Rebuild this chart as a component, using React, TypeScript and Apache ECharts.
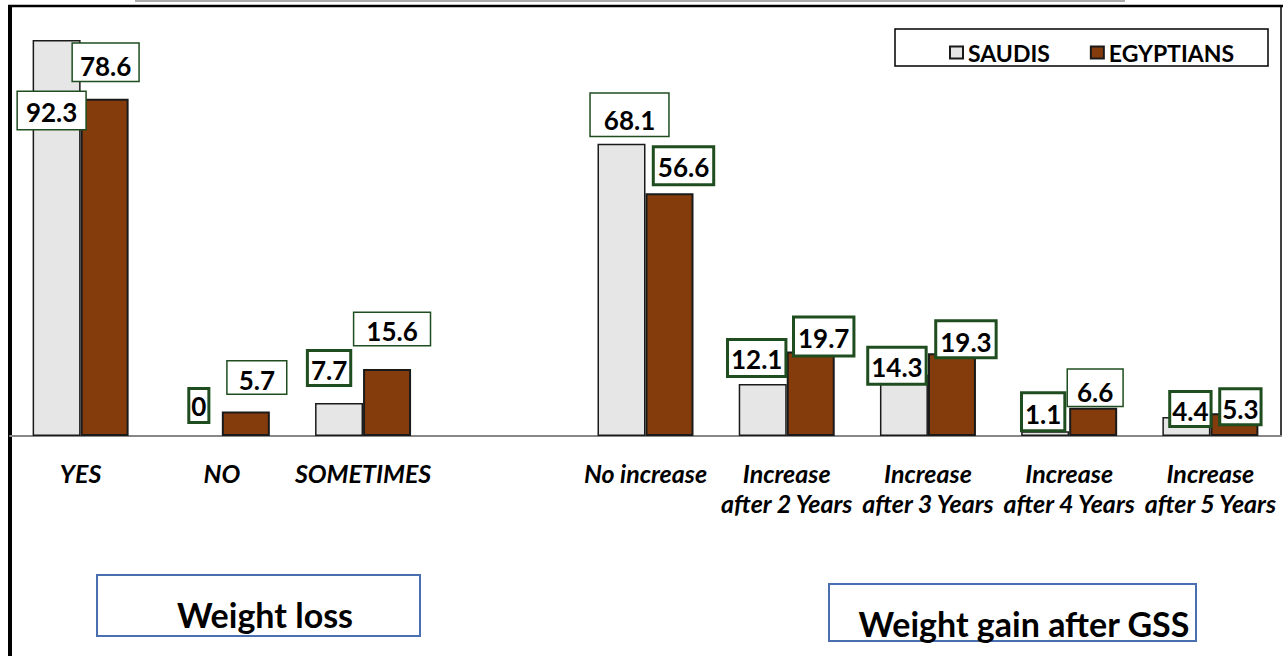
import React, { useEffect, useRef } from "react";
import * as echarts from "echarts";

const categories = [
  "YES",
  "NO",
  "SOMETIMES",
  "",
  "No increase",
  "Increase\nafter 2 Years",
  "Increase\nafter 3 Years",
  "Increase\nafter 4 Years",
  "Increase\nafter 5 Years",
];
const saudis: (number | null)[] = [92.3, 0, 7.7, null, 68.1, 12.1, 14.3, 1.1, 4.4];
const egyptians: (number | null)[] = [78.6, 5.7, 15.6, null, 56.6, 19.7, 19.3, 6.6, 5.3];
const seriesNames = ["SAUDIS", "EGYPTIANS"];
const groupTitles = ["Weight loss", "Weight gain after GSS"];

// label placement (manual Excel-like label positions)
const saudiLabelOffsets = [[-5, 89], [1, -15], [-10, -19], null, [8, -8], [-6, -9], [-7, 8], [-2, -2], [4, 8]];
const saudiLabelPadding = [[6, 8, 3, 8], [2, 1, 1, 1], [4, 2, 0, 2], null, [12, 13, 2, 13], [4, 2, 2, 2], [4, 2, 2, 2], [6, 2, 1, 2], [4, 1, 0, 1]];
const saudiLabelBorder = [1.5, 3, 3, 0, 1.5, 3, 3, 3, 3];
const egyptLabelOffsets = [[1, -18], [11, -18], [5, -24], null, [14, -10], [13, 3], [14, 3], [2, -2], [6, 10]];
const egyptLabelPadding = [[8, 7, 1, 7], [4, 11, 0, 11], [4, 12, 0, 12], null, [5, 3, 2, 3], [6, 3, 2, 3], [6, 3, 0, 3], [8, 9, 0, 9], [5, 1, 0, 1]];
const egyptLabelBorder = [1.5, 1.5, 1.5, 0, 3, 3, 3, 1.5, 3];

const FONT = 'Lato, "Open Sans", sans-serif';

function buildData(values: (number | null)[], offsets: any[], paddings: any[], borders: number[]) {
  return values.map((v, i) => {
    if (v === null) return { value: null, label: { show: false } };
    return {
      value: v,
      itemStyle: v === 0 ? { borderWidth: 0 } : undefined,
      label: {
        show: true,
        offset: offsets[i],
        padding: paddings[i],
        borderWidth: borders[i],
      },
    };
  });
}

export default function App() {
  const ref = useRef<HTMLDivElement>(null);
  useEffect(() => {
    if (!ref.current) return;
    const chart = echarts.init(ref.current, null, { renderer: "svg" });
    const labelBase = {
      show: true,
      position: "top",
      distance: 0,
      fontFamily: FONT,
      fontSize: 26,
      fontWeight: "bold",
      color: "#000",
      lineHeight: 28,
      backgroundColor: "#fff",
      borderColor: "#1f4d1f",
      formatter: (p: any) => String(p.value),
    };
    chart.setOption({
      animation: false,
      backgroundColor: "#fff",
      grid: { left: 10, right: 6, top: 7, bottom: 220, containLabel: false },
      legend: {
        show: true,
        data: seriesNames,
        left: 944,
        top: 36,
        icon: "rect",
        itemWidth: 13,
        itemHeight: 12,
        itemGap: 40,
        textStyle: { fontFamily: FONT, fontSize: 23, fontWeight: "bold", color: "#000" },
      },
      xAxis: {
        type: "category",
        data: categories,
        axisLine: { show: true, lineStyle: { color: "#888", width: 2 } },
        axisTick: { show: false },
        axisLabel: {
          interval: 0,
          margin: 22,
          fontFamily: FONT,
          fontSize: 25,
          fontWeight: "bold",
          fontStyle: "italic",
          color: "#000",
          lineHeight: 30,
        },
      },
      yAxis: {
        type: "value",
        min: 0,
        max: 100,
        show: false,
        splitLine: { show: false },
      },
      series: [
        {
          name: seriesNames[0],
          type: "bar",
          barWidth: 48,
          barGap: "0%",
          itemStyle: { color: "#e6e6e6", borderColor: "#1a1a1a", borderWidth: 1.5 },
          label: labelBase,
          data: buildData(saudis, saudiLabelOffsets, saudiLabelPadding, saudiLabelBorder),
        },
        {
          name: seriesNames[1],
          type: "bar",
          barWidth: 48,
          barGap: "0%",
          itemStyle: { color: "#843c0c", borderColor: "#1a1a1a", borderWidth: 2 },
          label: labelBase,
          data: buildData(egyptians, egyptLabelOffsets, egyptLabelPadding, egyptLabelBorder),
        },
      ],
      graphic: [
        { type: "line", shape: { x1: 135, y1: 1, x2: 1125, y2: 1 }, style: { stroke: "#aaa", lineWidth: 2 } },
        { type: "line", shape: { x1: 8, y1: 6, x2: 1283, y2: 6 }, style: { stroke: "#000", lineWidth: 2.5 } },
        { type: "line", shape: { x1: 10, y1: 6, x2: 10, y2: 656 }, style: { stroke: "#000", lineWidth: 4 } },
        { type: "line", shape: { x1: 1281, y1: 6, x2: 1281, y2: 436 }, style: { stroke: "#000", lineWidth: 1.5 } },
        {
          type: "rect",
          z: -1,
          shape: { x: 895, y: 29, width: 373, height: 37 },
          style: { fill: "#fff", stroke: "#000", lineWidth: 1.5 },
        },
        {
          type: "rect",
          shape: { x: 97, y: 575, width: 323, height: 61 },
          style: { fill: "#fff", stroke: "#4a6fb0", lineWidth: 2 },
        },
        {
          type: "text",
          x: 265,
          y: 614,
          style: {
            text: groupTitles[0],
            fontFamily: FONT,
            fontSize: 34,
            fontWeight: "bold",
            fill: "#000",
            align: "center",
            verticalAlign: "middle",
          },
        },
        {
          type: "rect",
          shape: { x: 829, y: 584, width: 367, height: 57 },
          style: { fill: "#fff", stroke: "#4a6fb0", lineWidth: 2 },
        },
        {
          type: "text",
          x: 1024,
          y: 623,
          style: {
            text: groupTitles[1],
            fontFamily: FONT,
            fontSize: 34,
            fontWeight: "bold",
            fill: "#000",
            align: "center",
            verticalAlign: "middle",
          },
        },
      ],
    });
    return () => chart.dispose();
  }, []);
  return (
    <div
      ref={ref}
      style={{ position: "fixed", left: 0, top: 0, width: 1287, height: 656 }}
    />
  );
}
